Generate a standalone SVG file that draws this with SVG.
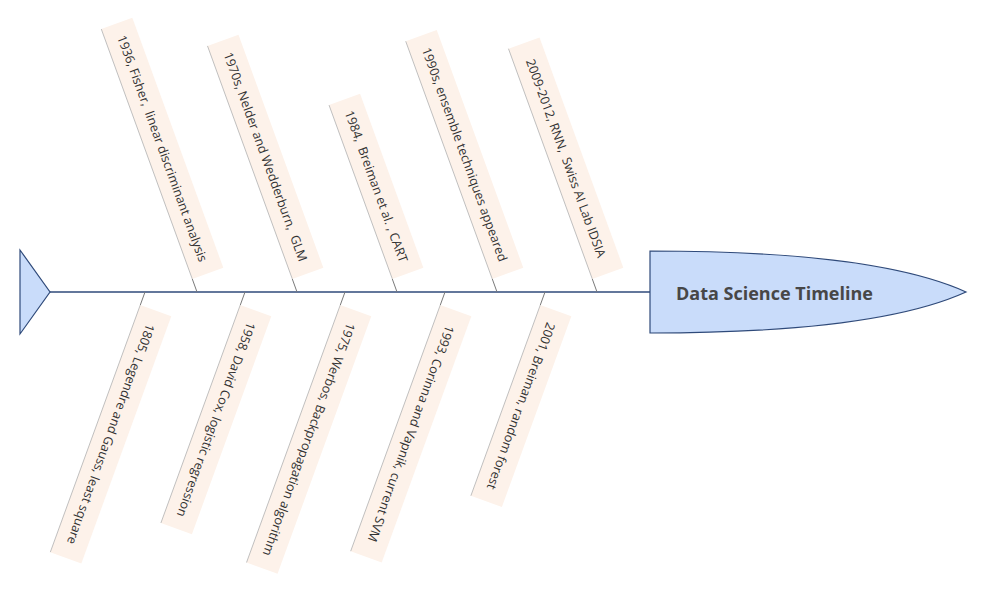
<svg xmlns="http://www.w3.org/2000/svg" width="982" height="593" viewBox="0 0 982 593">
<style>
.box{fill:#fdf2ea;}
.edge{stroke:#b8b8b8;stroke-width:0.8;}
.lbl{font-family:"Open Sans","Liberation Sans",sans-serif;font-size:12.6px;fill:#333;text-anchor:middle;}
.con{stroke:#7a7a7a;stroke-width:1;fill:none;}
.title{font-family:"Open Sans","Liberation Sans",sans-serif;font-size:18px;font-weight:bold;fill:#474747;}
</style>
<rect width="982" height="593" fill="#fff"/>
<g id="connectors">
<line x1="50" y1="292" x2="650" y2="292" stroke="#2f4a7a" stroke-width="1.3"/>
<line class="con" x1="197" y1="292" x2="192.3" y2="279"/>
<line class="con" x1="297" y1="292" x2="292.3" y2="279"/>
<line class="con" x1="397" y1="292" x2="392.3" y2="279"/>
<line class="con" x1="497" y1="292" x2="492.3" y2="279"/>
<line class="con" x1="597" y1="292" x2="592.3" y2="279"/>
<line class="con" x1="145" y1="292" x2="140.3" y2="305"/>
<line class="con" x1="245" y1="292" x2="240.3" y2="305"/>
<line class="con" x1="345" y1="292" x2="340.3" y2="305"/>
<line class="con" x1="445" y1="292" x2="440.3" y2="305"/>
<line class="con" x1="545" y1="292" x2="540.3" y2="305"/>
</g>
<g id="tail">
<polygon points="20,250 50,292 20,334" fill="#c9dcfa" stroke="#2f4a7a" stroke-width="1.2"/>
</g>
<g id="head">
<path d="M650,251 C780,251 900,262 966,292 C900,322 780,333 650,333 Z" fill="#c9dcfa" stroke="#2f4a7a" stroke-width="1.2"/>
<text class="title" x="676" y="300">Data Science Timeline</text>
</g>
<g id="n1936" transform="translate(162.3,148.4) rotate(70)">
<rect class="box" x="-133" y="-16.5" width="266" height="33"/>
<line class="edge" x1="-133" y1="16.5" x2="133" y2="16.5"/>
<text class="lbl" x="0" y="4.4" xml:space="preserve">1936, Fisher,  linear discriminant analysis</text>
</g>
<g id="n1970" transform="translate(265.4,156.8) rotate(70)">
<rect class="box" x="-124" y="-16.5" width="248" height="33"/>
<line class="edge" x1="-124" y1="16.5" x2="124" y2="16.5"/>
<text class="lbl" x="0" y="4.4" xml:space="preserve">1970s, Nelder and Wedderburn,  GLM</text>
</g>
<g id="n1984" transform="translate(376.2,186.4) rotate(70)">
<rect class="box" x="-92.5" y="-16.5" width="185" height="33"/>
<line class="edge" x1="-92.5" y1="16.5" x2="92.5" y2="16.5"/>
<text class="lbl" x="0" y="4.4" xml:space="preserve">1984,  Breiman et al. , CART</text>
</g>
<g id="n1990" transform="translate(464.5,154.5) rotate(70)">
<rect class="box" x="-126.5" y="-16.5" width="253" height="33"/>
<line class="edge" x1="-126.5" y1="16.5" x2="126.5" y2="16.5"/>
<text class="lbl" x="0" y="4.4">1990s, ensemble techniques appeared</text>
</g>
<g id="n2009" transform="translate(565.9,158.2) rotate(70)">
<rect class="box" x="-122.5" y="-16.5" width="245" height="33"/>
<line class="edge" x1="-122.5" y1="16.5" x2="122.5" y2="16.5"/>
<text class="lbl" x="0" y="4.4" xml:space="preserve">2009-2012, RNN,  Swiss AI Lab IDSIA</text>
</g>
<g id="n1805" transform="translate(110.8,434.2) rotate(110)">
<rect class="box" x="-131.5" y="-16.5" width="263" height="33"/>
<line class="edge" x1="-131.5" y1="16.5" x2="131.5" y2="16.5"/>
<text class="lbl" x="0" y="4.4">1805, Legendre and Gauss, least square</text>
</g>
<g id="n1958" transform="translate(216.1,419.6) rotate(110)">
<rect class="box" x="-116" y="-16.5" width="232" height="33"/>
<line class="edge" x1="-116" y1="16.5" x2="116" y2="16.5"/>
<text class="lbl" x="0" y="4.4">1958, David Cox, logistic regression</text>
</g>
<g id="n1975" transform="translate(308.9,439.4) rotate(110)">
<rect class="box" x="-137" y="-16.5" width="274" height="33"/>
<line class="edge" x1="-137" y1="16.5" x2="137" y2="16.5"/>
<text class="lbl" x="0" y="4.4">1975, Werbos, Backpropagation algorithm</text>
</g>
<g id="n1993" transform="translate(411.0,433.7) rotate(110)">
<rect class="box" x="-131" y="-16.5" width="262" height="33"/>
<line class="edge" x1="-131" y1="16.5" x2="131" y2="16.5"/>
<text class="lbl" x="0" y="4.4">1993, Corinna and Vapnik, current SVM</text>
</g>
<g id="n2001" transform="translate(521.1,406.0) rotate(110)">
<rect class="box" x="-101.5" y="-16.5" width="203" height="33"/>
<line class="edge" x1="-101.5" y1="16.5" x2="101.5" y2="16.5"/>
<text class="lbl" x="0" y="4.4">2001, Breiman, random forest</text>
</g>
</svg>
